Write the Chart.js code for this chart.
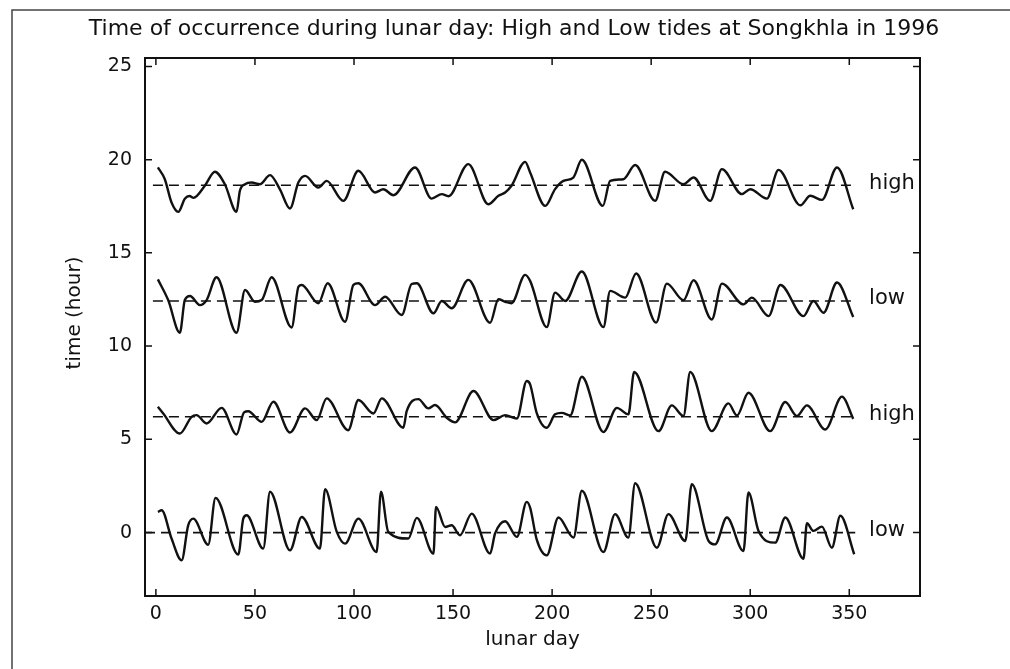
<!DOCTYPE html>
<html><head><meta charset="utf-8">
<script src="https://cdn.jsdelivr.net/npm/chart.js@4.4.1/dist/chart.umd.min.js"></script>
<style>html,body{margin:0;padding:0;background:#fff;overflow:hidden}canvas{display:block}</style>
</head><body>
<canvas id="c" width="1010" height="669"></canvas>
<script>
const titleText = "Time of occurrence during lunar day: High and Low tides at Songkhla in 1996";
const xAxisTitle = "lunar day";
const yAxisTitle = "time (hour)";
const xTicks = [0, 50, 100, 150, 200, 250, 300, 350];
const yTicks = [0, 5, 10, 15, 20, 25];
const meanLevels = [18.63, 12.42, 6.21, 0];
const levelNames = ["high", "low", "high", "low"];
const levelStart = [-1.5, -1.5, -1.5, -5.5];
const levelEnd = 353;
const labelDay = 360;

const highUpperDays = [1,4.5,7.9,11.3,14.6,17,19,24.7,29.8,34.8,40.7,42.4,45,48.3,52.5,57.6,62.6,67.7,71.9,75.3,82,86.2,94.6,102.2,110.6,114.8,119.9,130.8,139.2,144.3,147.7,157.7,167.8,172.9,176.3,179.5,186.4,188.9,196.5,201.5,205.7,210.7,215,225.6,229.3,236,241.9,252,257,266.3,271.4,279.8,285.7,295.8,300,308.4,314.3,325.3,330.3,336.2,343.8,352];
const highUpperHours = [19.58,18.95,17.7,17.2,17.9,18.05,17.95,18.6,19.35,18.68,17.2,18.33,18.68,18.77,18.68,19.17,18.41,17.38,18.77,19.13,18.5,18.86,17.79,19.4,18.24,18.41,18.09,19.58,17.91,18.15,18.04,19.76,17.61,18.06,18.24,18.6,19.88,19.31,17.52,18.42,18.86,19.04,19.99,17.52,18.86,18.95,19.71,17.79,19.35,18.68,19.04,17.79,19.49,18.15,18.41,17.91,19.45,17.55,18.06,17.84,19.58,17.34];

const lowUpperDays = [1,6.2,12.1,14.6,17.2,22.2,25.6,30.6,40.7,45,50,53.4,58.4,68.5,72,73.6,82,86.7,95.5,99.7,102.2,110.6,115.7,124.1,129.1,131.7,140.1,144.3,149.3,157.7,168.7,172.9,176.3,179.5,186.4,188.9,197.3,201.5,206.6,215,225.9,229.3,236.9,242.4,252.5,257.9,266.3,271.4,280.6,285.7,296.6,300.8,309.3,315.2,326.9,331.9,337,343.8,352];
const lowUpperHours = [13.58,12.47,10.72,12.47,12.69,12.2,12.47,13.69,10.72,13.01,12.38,12.47,13.69,11.0,13.19,13.28,12.3,13.37,11.31,13.28,13.37,12.2,12.65,11.67,13.33,13.37,11.76,12.42,12.03,13.55,11.25,12.51,12.38,12.3,13.82,13.5,11.02,12.87,12.42,14.0,11.02,12.96,12.6,13.89,11.26,13.35,12.46,13.53,11.43,13.35,12.24,12.6,11.61,13.28,11.61,12.42,11.79,13.41,11.56];

const highLowerDays = [1,3.7,12.1,18,20.5,25.6,33.2,40.7,44.5,46.6,53.4,59.3,67.7,75.3,81.2,86.2,97.1,102.2,109.8,114,124.9,126.6,132.5,137.5,140.9,146.8,151,160.3,170.4,176.3,182.2,187.2,188.9,192.2,197.3,201.5,204.9,209.1,215,225.9,232.7,238.5,241.4,253.7,260.4,266.3,269.7,280.6,289,293.3,299.1,310.1,317.7,323.6,328.6,337.9,346.3,352];
const highLowerHours = [6.75,6.39,5.31,6.21,6.3,5.85,6.69,5.26,6.45,6.51,5.94,7.02,5.37,6.66,6.03,7.2,5.49,7.11,6.39,7.2,5.62,6.51,7.16,6.66,6.84,6.16,5.91,7.59,6.03,6.3,6.12,8.13,7.95,6.42,5.62,6.34,6.42,6.28,8.36,5.39,6.69,6.34,8.61,5.44,6.82,6.25,8.61,5.44,6.93,6.28,7.5,5.44,7.0,6.25,6.82,5.53,7.29,6.1];

const lowLowerDays = [1,2.9,7.9,13,16.3,18.9,26.4,30.1,41.6,44.1,45.8,54.2,57.6,67.7,73.6,82.8,85.4,91.3,95.5,102.2,111.4,113.6,117.3,127.4,131.7,140.1,141.4,146,149.3,153.5,159.4,168.7,171.2,176.3,182.2,187.2,188.9,192.2,197.3,203.2,210.8,215,225.9,231.8,238.5,241.9,252.9,258.7,267.2,270.5,279,282.3,288.2,296.6,299.1,304.2,312.6,317.7,326.9,328.6,331.9,336.2,341.2,345.5,352.5];
const lowLowerHours = [1.11,1.2,-0.32,-1.49,0.39,0.75,-0.65,1.86,-1.18,0.75,0.93,-0.86,2.19,-0.95,0.84,-0.86,2.33,0.04,-0.59,0.75,-1.04,2.19,0.04,-0.32,0.79,-1.13,1.38,0.3,0.39,-0.14,1.02,-1.13,-0.05,0.61,-0.23,1.65,1.34,-0.36,-1.22,0.81,-0.27,2.24,-1.04,0.99,-0.27,2.65,-0.81,0.99,-0.45,2.6,-0.45,-0.63,0.81,-0.99,2.15,0.09,-0.54,0.81,-1.4,0.5,0.09,0.32,-0.81,0.9,-1.16];

const FONT = "DejaVu Sans";
const INK = "#111";

function pairs(xs, ys) { return xs.map((d, i) => ({x: d, y: ys[i]})); }
const curves = [[highUpperDays, highUpperHours], [lowUpperDays, lowUpperHours], [highLowerDays, highLowerHours], [lowLowerDays, lowLowerHours]];

const datasets = [];
meanLevels.forEach((lv, i) => {
  datasets.push({
    data: [{x: levelStart[i], y: lv}, {x: levelEnd, y: lv}],
    borderColor: INK, borderWidth: 1.6, borderDash: [10, 6], pointRadius: 0, tension: 0
  });
});
curves.forEach(([d, h]) => {
  datasets.push({
    data: pairs(d, h), borderColor: INK, borderWidth: 2.4, pointRadius: 0,
    cubicInterpolationMode: 'monotone'
  });
});

const deco = {
  id: 'deco',
  afterDraw(chart) {
    const {ctx, chartArea: a, scales: {x, y}} = chart;
    ctx.save();
    ctx.strokeStyle = INK; ctx.lineWidth = 2;
    ctx.strokeRect(a.left, a.top, a.right - a.left, a.bottom - a.top);
    ctx.lineWidth = 1.5;
    const tl = 7;
    ctx.beginPath();
    xTicks.forEach(v => {
      const p = x.getPixelForValue(v);
      ctx.moveTo(p, a.bottom); ctx.lineTo(p, a.bottom - tl);
      ctx.moveTo(p, a.top); ctx.lineTo(p, a.top + tl);
    });
    yTicks.forEach(v => {
      const p = y.getPixelForValue(v);
      ctx.moveTo(a.left, p); ctx.lineTo(a.left + tl, p);
      ctx.moveTo(a.right, p); ctx.lineTo(a.right - tl, p);
    });
    ctx.stroke();
    ctx.strokeStyle = '#444'; ctx.lineWidth = 1.5;
    ctx.beginPath(); ctx.moveTo(12, 669); ctx.lineTo(12, 10); ctx.lineTo(1010, 10); ctx.stroke();
    ctx.fillStyle = INK;
    ctx.textAlign = 'center'; ctx.textBaseline = 'middle';
    ctx.font = '22px "' + FONT + '"';
    ctx.fillText(titleText, 514, 29);
    ctx.font = '20px "' + FONT + '"';
    ctx.fillText(xAxisTitle, (a.left + a.right) / 2, 640);
    ctx.save(); ctx.translate(75, 313); ctx.rotate(-Math.PI / 2); ctx.fillText(yAxisTitle, 0, 0); ctx.restore();
    ctx.font = '21px "' + FONT + '"'; ctx.textAlign = 'left';
    levelNames.forEach((n, i) => ctx.fillText(n, x.getPixelForValue(labelDay), y.getPixelForValue(meanLevels[i]) - 2));
    ctx.restore();
  }
};

new Chart(document.getElementById('c'), {
  type: 'line',
  data: {datasets},
  options: {
    responsive: false, animation: false, devicePixelRatio: 1,
    layout: {padding: {left: 0, top: 58, right: 90, bottom: 0}},
    plugins: {legend: {display: false}, tooltip: {enabled: false}, title: {display: false}},
    scales: {
      x: {
        type: 'linear', position: 'bottom', min: -5.5, max: 385.7,
        afterBuildTicks: s => { s.ticks = xTicks.map(v => ({value: v})); },
        afterFit: s => { s.height = 73; },
        grid: {display: false, drawTicks: false}, border: {display: false},
        ticks: {font: {family: FONT, size: 19}, color: INK, padding: 7, maxRotation: 0, autoSkip: false}
      },
      y: {
        type: 'linear', position: 'left', min: -3.4, max: 25.45,
        afterBuildTicks: s => { s.ticks = yTicks.map(v => ({value: v})); },
        afterFit: s => { s.width = 145; },
        grid: {display: false, drawTicks: false}, border: {display: false},
        ticks: {font: {family: FONT, size: 19}, color: INK, padding: 13, autoSkip: false}
      }
    }
  },
  plugins: [deco]
});
</script>
</body></html>
